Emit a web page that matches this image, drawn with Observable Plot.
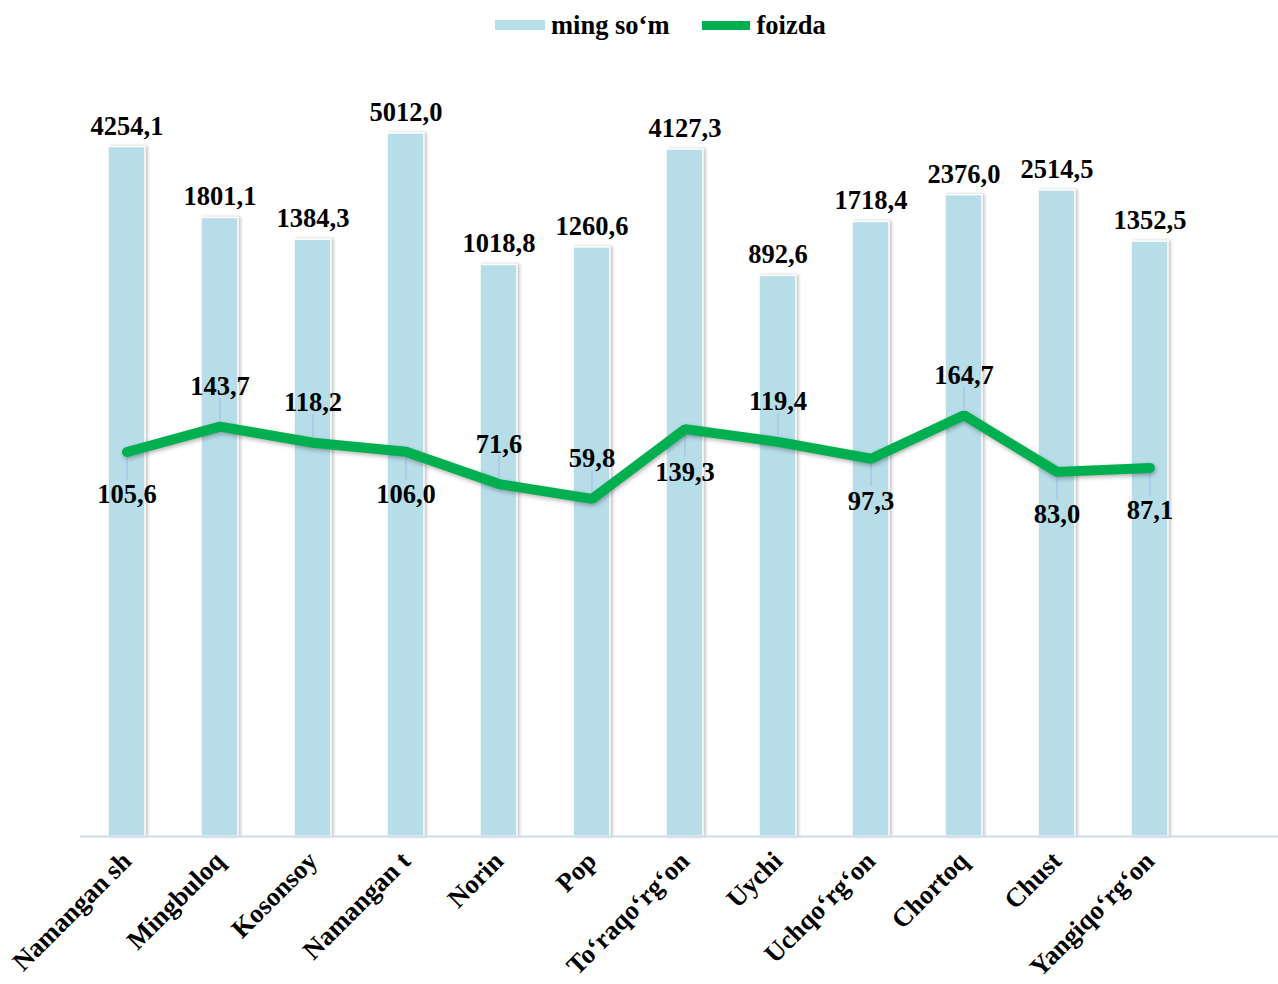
<!DOCTYPE html>
<html><head><meta charset="utf-8">
<script src="https://cdn.jsdelivr.net/npm/d3@7"></script>
<script src="https://cdn.jsdelivr.net/npm/@observablehq/plot@0.6"></script>
<style>
body{margin:0;background:#fff;font-family:"Liberation Serif","Times New Roman",serif;}
#legend{height:50px;display:flex;align-items:center;margin-left:495px;font-weight:bold;font-size:26.5px;color:#000;}
.item{display:flex;align-items:center}
.sw{width:50px;margin-right:6px}
.bars rect{filter:drop-shadow(2px 0px 1.5px rgba(0,0,0,0.22))}
.pline path{filter:drop-shadow(1px 2px 2px rgba(0,0,0,0.3))}
</style></head><body>
<div id="legend">
  <div class="item"><div class="sw" style="height:10px;background:#b7dde8"></div><span>ming so‘m</span></div>
  <div class="item" style="margin-left:32px"><div class="sw" style="height:9px;background:#00b050;width:48px;margin-right:7px"></div><span>foizda</span></div>
</div>
<div id="chart"></div>
<script>
const districts = ["Namangan sh","Mingbuloq","Kosonsoy","Namangan t","Norin","Pop","To‘raqo‘rg‘on","Uychi","Uchqo‘rg‘on","Chortoq","Chust","Yangiqo‘rg‘on"];
const amounts = [4254.1,1801.1,1384.3,5012.0,1018.8,1260.6,4127.3,892.6,1718.4,2376.0,2514.5,1352.5];
const percents = [105.6,143.7,118.2,106.0,71.6,59.8,139.3,119.4,97.3,164.7,83.0,87.1];
const percentLabelAbove = [false,true,true,false,true,true,false,true,false,true,false,false];

const rows = districts.map((d, i) => ({district: d, amount: amounts[i], pct: percents[i], above: percentLabelAbove[i]}));
const fmt = v => d3.format(".1f")(v).replace(".", ",");
const pxPerDecade = 190;
const shift = px => Math.pow(10, px / pxPerDecade);
const font = {fontFamily: "Liberation Serif", fontWeight: "bold", fontSize: 26.5, fill: "#000"};

const chart = Plot.plot({
  width: 1278,
  height: 934,
  marginLeft: 80,
  marginRight: 0,
  marginTop: 26,
  marginBottom: 148,
  style: {fontFamily: "Liberation Serif", background: "#fff"},
  x: {domain: districts, range: [80.5, 1196.5], paddingInner: 0.6, paddingOuter: 0.3, label: null},
  y: {type: "log", domain: [1, 10000], axis: null},
  marks: [
    Plot.barY(rows, {x: "district", y1: 1, y2: "amount", fill: "#b7dde8", stroke: "#fff", strokeWidth: 1.5, className: "bars"}),
    Plot.ruleY([1], {stroke: "#cbdcf0", strokeWidth: 2}),
    Plot.axisX({tickRotate: -45, tickSize: 0, tickPadding: 20, ...font, label: null}),
    Plot.text(rows, {x: "district", y: "amount", text: d => fmt(d.amount), dy: -21, ...font}),
    Plot.ruleX(rows, {x: "district", y1: d => d.pct * shift(d.above ? 6 : -6), y2: d => d.pct * shift(d.above ? 28 : -28), stroke: "#a9c4ea", strokeWidth: 1.5}),
    Plot.line(rows, {x: "district", y: "pct", stroke: "#00b050", strokeWidth: 10, strokeLinejoin: "miter", className: "pline"}),
    Plot.text(rows.filter(d => d.above), {x: "district", y: "pct", text: d => fmt(d.pct), dy: -40, ...font}),
    Plot.text(rows.filter(d => !d.above), {x: "district", y: "pct", text: d => fmt(d.pct), dy: 43, ...font})
  ]
});
document.getElementById("chart").appendChild(chart);
</script>
</body></html>
